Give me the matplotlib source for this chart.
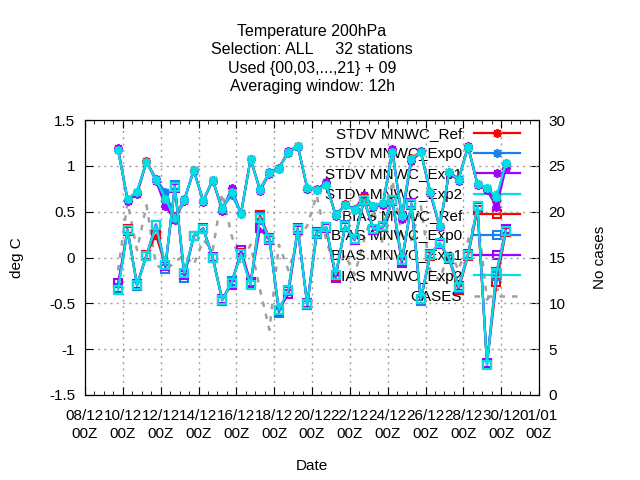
import numpy as np
import pandas as pd
import matplotlib
matplotlib.use("Agg")
import matplotlib.pyplot as plt
import matplotlib.dates as mdates
from matplotlib.ticker import MultipleLocator, FormatStrFormatter

plt.rcParams["font.family"] = ["Liberation Sans", "DejaVu Sans"]
plt.rcParams["font.size"] = 11

# valid times, one every 12h
times = pd.date_range("2023-12-09 18:00", periods=42, freq="12h")

stdv_ref = [1.18, 0.63, 0.71, 1.05, 0.86, 0.62, 0.45, 0.63, 0.95, 0.62, 0.85, 0.53, 0.71, 0.49,
            1.07, 0.74, 0.92, 0.98, 1.15, 1.22, 0.75, 0.75, 0.80, 0.46, 0.58, 0.53, 0.66, 0.56,
            0.58, 1.15, 0.44, 1.09, 1.15, 0.71, 0.33, 0.93, 0.86, 1.21, 0.80, 0.75, 0.62, 1.02]
stdv_exp0 = [1.17, 0.63, 0.72, 1.04, 0.86, 0.71, 0.44, 0.64, 0.94, 0.62, 0.84, 0.54, 0.68, 0.49,
             1.07, 0.75, 0.93, 0.98, 1.14, 1.21, 0.76, 0.74, 0.79, 0.47, 0.57, 0.53, 0.64, 0.56,
             0.60, 1.15, 0.46, 1.08, 1.15, 0.72, 0.34, 0.93, 0.86, 1.20, 0.80, 0.76, 0.64, 1.03]
stdv_exp1 = [1.19, 0.62, 0.69, 1.04, 0.84, 0.56, 0.41, 0.62, 0.96, 0.61, 0.85, 0.51, 0.76, 0.47,
             1.08, 0.73, 0.91, 0.97, 1.16, 1.22, 0.75, 0.74, 0.82, 0.45, 0.57, 0.52, 0.68, 0.55,
             0.57, 1.18, 0.42, 1.05, 1.16, 0.70, 0.33, 0.92, 0.84, 1.22, 0.79, 0.74, 0.55, 0.98]
stdv_exp2 = [1.17, 0.64, 0.72, 1.04, 0.85, 0.64, 0.43, 0.63, 0.95, 0.62, 0.85, 0.53, 0.72, 0.48,
             1.07, 0.74, 0.92, 0.97, 1.15, 1.22, 0.76, 0.74, 0.79, 0.46, 0.57, 0.52, 0.65, 0.56,
             0.59, 1.15, 0.45, 1.08, 1.15, 0.72, 0.34, 0.93, 0.85, 1.21, 0.80, 0.76, 0.66, 1.03]

bias_ref = [-0.33, 0.31, -0.30, 0.03, 0.25, -0.09, 0.78, -0.18, 0.23, 0.31, 0.00, -0.46, -0.27, 0.05,
            -0.29, 0.46, 0.21, -0.58, -0.36, 0.32, -0.52, 0.27, 0.33, -0.20, 0.34, 0.20, 0.64, 0.30,
            0.34, 0.63, -0.04, 0.57, -0.46, 0.02, 0.15, -0.02, -0.35, 0.02, 0.52, -1.16, -0.27, 0.28]
bias_exp0 = [-0.34, 0.30, -0.31, 0.02, 0.36, -0.12, 0.79, -0.22, 0.24, 0.31, -0.01, -0.47, -0.26, 0.04,
             -0.30, 0.44, 0.20, -0.60, -0.35, 0.31, -0.52, 0.26, 0.33, -0.19, 0.35, 0.20, 0.63, 0.31,
             0.34, 0.63, -0.03, 0.58, -0.47, 0.03, 0.16, -0.01, -0.33, 0.03, 0.56, -1.17, -0.20, 0.29]
bias_exp1 = [-0.28, 0.29, -0.29, 0.02, 0.36, -0.09, 0.76, -0.19, 0.24, 0.32, 0.01, -0.45, -0.30, 0.08,
             -0.27, 0.32, 0.19, -0.57, -0.40, 0.30, -0.50, 0.28, 0.32, -0.22, 0.33, 0.19, 0.62, 0.30,
             0.33, 0.62, -0.06, 0.59, -0.45, 0.04, 0.15, 0.00, -0.31, 0.04, 0.55, -1.15, -0.16, 0.31]
bias_exp2 = [-0.35, 0.30, -0.30, 0.02, 0.35, -0.08, 0.77, -0.17, 0.24, 0.31, 0.00, -0.46, -0.28, 0.04,
             -0.30, 0.43, 0.20, -0.57, -0.35, 0.31, -0.51, 0.27, 0.33, -0.19, 0.34, 0.20, 0.63, 0.31,
             0.34, 0.63, -0.03, 0.58, -0.45, 0.03, 0.16, -0.01, -0.32, 0.03, 0.56, -1.17, -0.17, 0.29]

cases = [13.6, 21.0, 15.8, 20.7, 14.2, 13.6, 14.5, 15.3, 14.2, 16.9, 15.8, 22.0, 17.4, 14.2,
         16.4, 11.5, 7.1, 16.4, 13.6, 16.9, 18.5, 21.8, 16.9, 13.6, 15.3, 13.1, 16.9, 20.2,
         16.4, 23.4, 17.4, 16.9, 20.7, 13.6, 12.5, 15.8, 13.6, 16.9, 19.6, 10.4, 11.5, 11.5]

exps = ["MNWC_Ref", "MNWC_Exp0", "MNWC_Exp1", "MNWC_Exp2"]
colors = ["#ff0000", "#1a80f0", "#a000ff", "#00e0e0"]

fig = plt.figure(figsize=(6.4, 4.8), dpi=100)
ax = fig.add_axes([85 / 640, 85 / 480, 454 / 640, 275 / 480])
ax2 = ax.twinx()
ax.set_zorder(ax2.get_zorder() + 1)
ax.patch.set_visible(False)

handles = []
for name, vals, c in zip(exps, [stdv_ref, stdv_exp0, stdv_exp1, stdv_exp2], colors):
    h, = ax.plot(times, vals, color=c, lw=1.6, marker=(8, 2, 0), ms=6.5, mew=1.3,
                 label="STDV " + name, zorder=3)
    handles.append(h)
for name, vals, c in zip(exps, [bias_ref, bias_exp0, bias_exp1, bias_exp2], colors):
    h, = ax.plot(times, vals, color=c, lw=1.6, marker="s", ms=6, mew=1.5, mfc="none",
                 label="BIAS " + name, zorder=3)
    handles.append(h)
hc, = ax2.plot(times, cases, color="#a0a0a0", lw=1.8, dashes=(2.2, 2.8), label="CASES")
handles.append(hc)

ax.set_xlim(pd.Timestamp("2023-12-08"), pd.Timestamp("2024-01-01"))
ax.set_ylim(-1.5, 1.5)
ax2.set_ylim(0, 30)
ax.xaxis.set_major_locator(mdates.DayLocator(interval=2))
ax.xaxis.set_minor_locator(mdates.HourLocator(byhour=[0, 12]))
ax.xaxis.set_major_formatter(mdates.DateFormatter("%d/%m\n%HZ"))
ax.yaxis.set_major_locator(MultipleLocator(0.5))
ax.yaxis.set_major_formatter(FormatStrFormatter("%g"))
ax2.yaxis.set_major_locator(MultipleLocator(5))

ax.tick_params(axis="x", which="major", direction="in", length=6, top=True, pad=10)
ax.tick_params(axis="x", which="minor", direction="in", length=3, top=True)
ax.tick_params(axis="y", direction="in", length=6, right=False, pad=7)
ax2.tick_params(axis="y", direction="in", length=6, pad=7)
for lab in ax.get_xticklabels():
    lab.set_linespacing(1.35)

ax.grid(True, which="major", color="#a0a0a0", ls=(0, (1.5, 3)), lw=1)

ax.set_xlabel("Date", labelpad=13)
ax.set_ylabel("deg C")
ax.yaxis.set_label_coords(-0.135, 0.5)
ax2.set_ylabel("No cases")
ax2.yaxis.set_label_coords(1.118, 0.5)

leg = ax.legend(handles=handles, loc="upper right", bbox_to_anchor=(0.958, 0.975),
                frameon=False, markerfirst=False, handlelength=3.0, handletextpad=0.8,
                labelspacing=0.42, borderpad=0, borderaxespad=0)
leg.set_zorder(1)

fig.text(312 / 640, 1 - 59 / 480,
         "Temperature 200hPa\nSelection: ALL     32 stations\nUsed {00,03,...,21} + 09\nAveraging window: 12h",
         ha="center", va="center", linespacing=1.3, fontsize=11.5)

fig.savefig("out.png", dpi=100)
